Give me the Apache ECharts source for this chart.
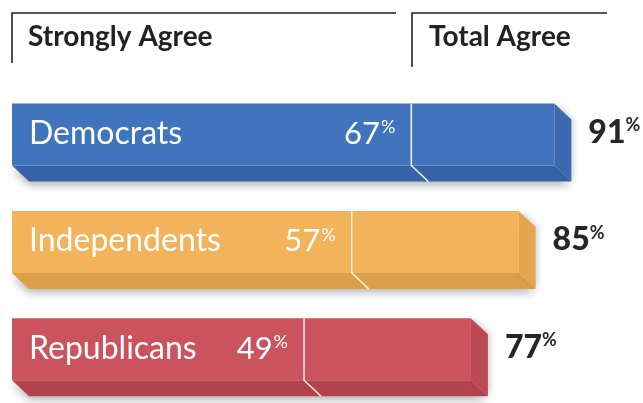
<!DOCTYPE html>
<html>
<head>
<meta charset="utf-8">
<script src="https://cdn.jsdelivr.net/npm/echarts@6/dist/echarts.min.js"></script>
<style>
html,body{margin:0;padding:0;background:#fff;}
#chart{width:643px;height:403px;}
</style>
</head>
<body>
<div id="chart"></div>
<script>
const categories = ['Democrats', 'Independents', 'Republicans'];
const stronglyAgree = [67, 57, 49];
const totalAgree = [91, 85, 77];
const headerLabels = ['Strongly Agree', 'Total Agree'];

const palette = [
  { front: '#4074BC', bottom: '#3663A8', side: '#3A69AF', divider: '#F4F7FC' },
  { front: '#F2B35A', bottom: '#DC9F48', side: '#E2A64F', divider: '#FFF6DC' },
  { front: '#CB535E', bottom: '#B2434D', side: '#BC4A55', divider: '#FBEAEA' }
];

const DX = 17, DY = 16, HALF = 31;
const FONT = 'Lato, "Open Sans", sans-serif';

const chart = echarts.init(document.getElementById('chart'));

function renderItem(params, api) {
  const idx = api.value(0);
  const strong = api.value(1);
  const total = api.value(2);
  const p0 = api.coord([0, idx]);
  const p1 = api.coord([strong, idx]);
  const p2 = api.coord([total, idx]);
  const c = p0[1];
  const top = c - HALF, fb = c + HALF;
  const x0 = p0[0], x1 = p1[0], x2 = p2[0];
  const col = palette[idx];
  return {
    type: 'group',
    children: [
      { type: 'polygon', shape: { points: [[x0, fb], [x2, fb], [x2 + DX, fb + DY], [x0 + DX, fb + DY]] },
        style: { fill: col.bottom, shadowColor: 'rgba(0,0,0,0.28)', shadowBlur: 8, shadowOffsetY: 4 } },
      { type: 'polygon', shape: { points: [[x2, top], [x2 + DX, top + DY], [x2 + DX, fb + DY], [x2, fb]] },
        style: { fill: col.side, shadowColor: 'rgba(0,0,0,0.2)', shadowBlur: 6, shadowOffsetX: 2 } },
      { type: 'rect', shape: { x: x0, y: top, width: x2 - x0, height: fb - top },
        style: { fill: col.front } },
      { type: 'polyline', shape: { points: [[x1, top], [x1, fb], [x1 + DX, fb + DY]] },
        style: { stroke: col.divider, lineWidth: 1.5, fill: null } },
      { type: 'text', x: x0 + 17, y: c - 1,
        style: { text: categories[idx], fill: '#fff', font: '400 32px ' + FONT, verticalAlign: 'middle', align: 'left' } },
      { type: 'text', x: x1 - 16, y: c - 1,
        style: { text: '{n|' + strong + '}{p|%}', align: 'right', verticalAlign: 'middle',
          rich: {
            n: { fill: '#fff', font: '400 31px ' + FONT, lineHeight: 32, verticalAlign: 'bottom' },
            p: { fill: '#fff', font: '400 18px ' + FONT, lineHeight: 32, verticalAlign: 'top', padding: [1, 0, 0, 1] }
          } } },
      { type: 'text', x: x2 + DX + 17, y: c - 2,
        style: { text: '{n|' + total + '}{p|%}', align: 'left', verticalAlign: 'middle',
          rich: {
            n: { fill: '#262626', font: '900 32px ' + FONT, lineHeight: 32, verticalAlign: 'bottom' },
            p: { fill: '#262626', font: '700 18px ' + FONT, lineHeight: 32, verticalAlign: 'top', padding: [0, 0, 0, 0] }
          } } }
    ]
  };
}

chart.setOption({
  animation: false,
  backgroundColor: '#fff',
  grid: { left: 12, right: 35, top: 80.75, height: 331.5, containLabel: false },
  xAxis: { type: 'value', min: 0, max: 100, show: false },
  yAxis: { type: 'category', data: categories, inverse: true, show: false },
  series: [{
    type: 'custom',
    renderItem: renderItem,
    clip: false,
    data: categories.map((c, i) => [i, stronglyAgree[i], totalAgree[i]])
  }],
  graphic: [
    { type: 'polyline', shape: { points: [[12, 63], [12, 13], [396, 13]] }, style: { stroke: '#222', lineWidth: 1.6, fill: null } },
    { type: 'polyline', shape: { points: [[412, 67], [412, 13], [607, 13]] }, style: { stroke: '#222', lineWidth: 1.6, fill: null } },
    { type: 'text', left: 28, top: 23, style: { text: headerLabels[0], fill: '#222', font: '700 28px ' + FONT } },
    { type: 'text', left: 429, top: 23, style: { text: headerLabels[1], fill: '#222', font: '700 28px ' + FONT } }
  ]
});
</script>
</body>
</html>
